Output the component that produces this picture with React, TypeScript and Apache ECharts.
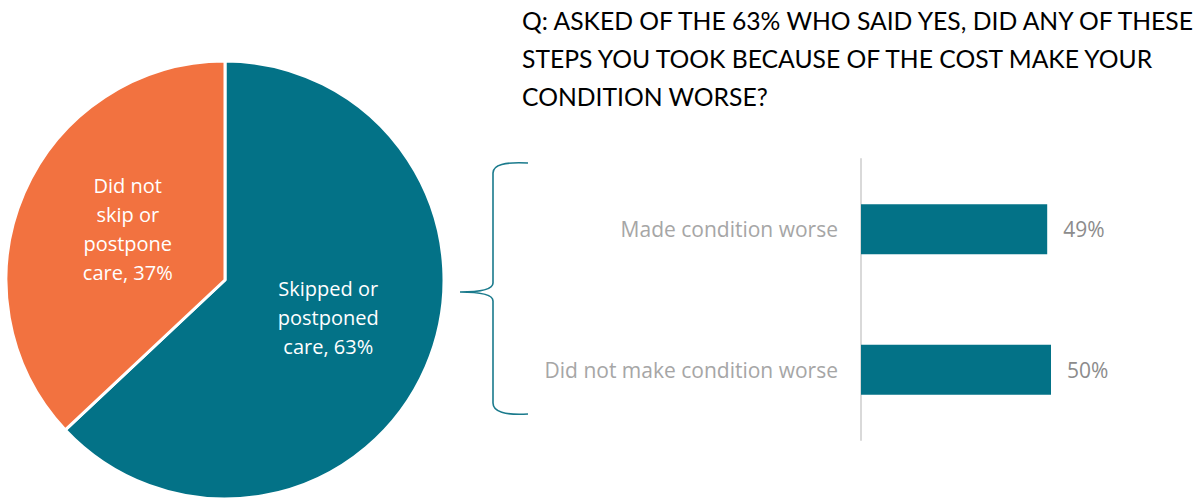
import React, { useEffect, useRef } from "react";
import * as echarts from "echarts";

const titleLines = [
  "Q: ASKED OF THE 63% WHO SAID YES, DID ANY OF THESE",
  "STEPS YOU TOOK BECAUSE OF THE COST MAKE YOUR",
  "CONDITION WORSE?",
];

const pieNames = ["Skipped or postponed care", "Did not skip or postpone care"];
const pieLabelText = ["Skipped or\npostponed\ncare", "Did not\nskip or\npostpone\ncare"];
const pieValues = [63, 37];
const pieColors = ["#037287", "#F27240"];
const pieLabelOffsets = [[0, -7], [6, -6]];

const barCategories = ["Made condition worse", "Did not make condition worse"];
const barValues = [49, 50];

const BRACE_D =
  "M 68 2 Q 33 0 33 12 L 33 122 Q 33 131 0 131 Q 33 131 33 140 L 33 242 Q 33 255 68 253";

let braceRegistered = false;

export default function App() {
  const ref = useRef<HTMLDivElement>(null);
  useEffect(() => {
    if (!ref.current) return;
    if (!braceRegistered) {
      echarts.graphic.registerShape("brace", echarts.graphic.extendPath(BRACE_D, {}));
      braceRegistered = true;
    }
    const chart = echarts.init(ref.current, null, { renderer: "svg" });
    const baseFont = "'Open Sans', sans-serif";
    chart.setOption({
      animation: false,
      backgroundColor: "#ffffff",
      title: {
        text: titleLines.join("\n"),
        left: 522,
        top: 1,
        padding: 0,
        textStyle: {
          fontFamily: "Lato, 'Open Sans', sans-serif",
          fontSize: 24.7,
          fontWeight: "normal",
          color: "#000000",
          lineHeight: 38,
        },
      },
      graphic: [
        {
          type: "brace",
          x: 460,
          y: 161,
          style: { stroke: "#1a7a8c", fill: "none", lineWidth: 1.6 },
        },
      ],
      grid: { left: 861, top: 159, width: 304, height: 281 },
      xAxis: {
        type: "value",
        min: 0,
        max: 80,
        show: false,
      },
      yAxis: {
        type: "category",
        data: barCategories,
        inverse: true,
        axisLine: { show: true, lineStyle: { color: "#d9d9d9", width: 2 } },
        axisTick: { show: false },
        axisLabel: {
          margin: 23,
          fontSize: 21,
          color: "#a6a6a6",
          fontFamily: baseFont,
        },
      },
      series: [
        {
          type: "pie",
          center: [225, 280],
          radius: 219,
          startAngle: 90,
          clockwise: true,
          data: pieNames.map((n, i) => ({
            name: n,
            value: pieValues[i],
            itemStyle: { color: pieColors[i] },
            label: { offset: pieLabelOffsets[i] },
          })),
          itemStyle: { borderColor: "#ffffff", borderWidth: 3 },
          label: {
            show: true,
            position: "inside",
            color: "#ffffff",
            fontSize: 20,
            lineHeight: 29,
            fontFamily: baseFont,
            formatter: (p: any) => `${pieLabelText[p.dataIndex]}, ${p.value}%`,
          },
          labelLine: { show: false },
          emphasis: { disabled: true },
        },
        {
          type: "bar",
          data: barValues,
          barWidth: 50,
          itemStyle: { color: "#037287" },
          label: {
            show: true,
            position: "right",
            distance: 16,
            fontSize: 21,
            color: "#8c8c8c",
            fontFamily: baseFont,
            formatter: "{c}%",
          },
          emphasis: { disabled: true },
        },
      ],
    });
    return () => chart.dispose();
  }, []);
  return (
    <div
      ref={ref}
      style={{ position: "fixed", left: 0, top: 0, width: 1202, height: 500 }}
    />
  );
}
